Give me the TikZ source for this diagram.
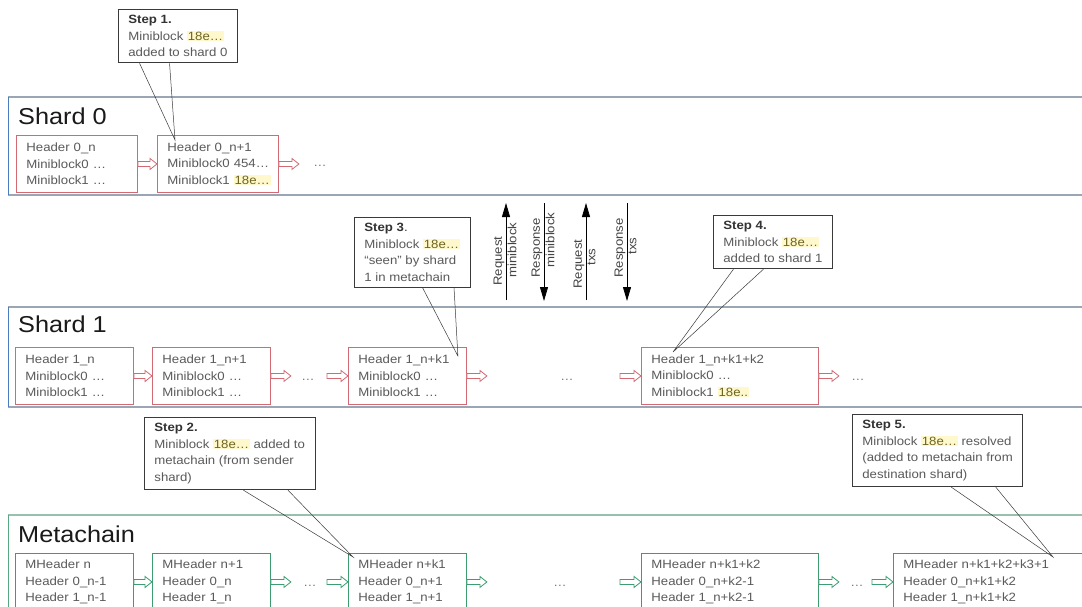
\documentclass[tikz,border=0pt]{standalone}
\usepackage{fontspec}
\setmainfont{Liberation Sans}[FakeStretch=1.1]
\usepackage{xcolor}
\usetikzlibrary{positioning, arrows.meta, calc}
\definecolor{shardred}{HTML}{D26A74}
\definecolor{metagreen}{HTML}{3D9C70}
\definecolor{bandline}{HTML}{9AA6B3}
\definecolor{bandblue}{HTML}{4A7DBF}
\definecolor{metaline}{HTML}{9BBFAE}
\definecolor{metaside}{HTML}{55A882}
\definecolor{txtgray}{HTML}{5A5A5A}
\definecolor{stepdark}{HTML}{333333}
\definecolor{callgray}{HTML}{3A3A3A}
\definecolor{dotgray}{HTML}{777777}
\definecolor{lblgray}{HTML}{444444}
\definecolor{titleblack}{HTML}{1A1A1A}
\definecolor{hlbg}{HTML}{FFF8CC}
\definecolor{hltext}{HTML}{6E6420}
\newcommand\blkfont{\fontsize{12}{16.5}\selectfont}
\newcommand\ttlfont{\fontsize{23}{27}\selectfont}
\newcommand\hlt[1]{{\setlength{\fboxsep}{0.8pt}\colorbox{hlbg}{\color{hltext}#1}}}
\tikzset{
  shardblk/.style={draw=shardred, line width=0.9pt, fill=white, anchor=north west,
    align=left, text width=#1, inner xsep=10pt, inner ysep=0pt,
    minimum height=57pt, text=txtgray, font=\blkfont},
  metablk/.style={shardblk=#1, draw=metagreen},
  callout/.style={draw=callgray, line width=0.8pt, fill=white, anchor=north west,
    align=left, inner xsep=10pt, inner ysep=6pt, text=txtgray, font=\blkfont},
  pointer/.style={draw=callgray, line width=0.5pt},
  chainarr/.style={draw=#1, line width=0.8pt, fill=white, line join=miter},
  dotsnode/.style={text=dotgray, font=\blkfont, inner sep=0pt},
  bandtitle/.style={anchor=west, text=titleblack, font=\ttlfont, inner sep=0pt},
  vlabel/.style={rotate=90, text=lblgray, font=\blkfont, inner sep=1.5pt},
  vline/.style={draw=black, line width=0.8pt, -{Triangle[length=14pt, width=8pt]}},
}
\begin{document}
\begin{tikzpicture}[x=1pt, y=-1pt]
  \useasboundingbox (0,0) rectangle (1082,607);
  \fill[white] (0,0) rectangle (1082,607);
  % bands
  \foreach \yt/\yb/\topc/\sidec in {97/195/bandline/bandblue, 307/407/bandline/bandblue, 515/640/metaline/metaside} {
    \draw[\topc, line width=1.2pt] (8,\yt) -- (1100,\yt);
    \draw[\topc, line width=1.2pt] (8,\yb) -- (1100,\yb);
    \draw[\sidec, line width=1pt] (8,\yt) -- (8,\yb);
  }
  \node[bandtitle] (ttl-s0) at (18,116) {Shard 0};
  \node[bandtitle] (ttl-s1) at (18,324) {Shard 1};
  \node[bandtitle] (ttl-m) at (18,534) {Metachain};
  % shard 0
  \node[shardblk=101pt] (s0a) at (16,135) {Header 0\_n\\ Miniblock0 \dots\\ Miniblock1 \dots};
  \node[shardblk=101pt] (s0b) at (157,135) {Header~0\_n+1\\ Miniblock0~454\dots\\ Miniblock1~\hlt{18e\dots}};
  % shard 1
  \node[shardblk=98pt] (s1a) at (15,347) {Header 1\_n\\ Miniblock0 \dots\\ Miniblock1 \dots};
  \node[shardblk=98pt] (s1b) at (152,347) {Header 1\_n+1\\ Miniblock0 \dots\\ Miniblock1 \dots};
  \node[shardblk=98pt] (s1c) at (348,347) {Header 1\_n+k1\\ Miniblock0 \dots\\ Miniblock1 \dots};
  \node[shardblk=157pt] (s1d) at (641,347) {Header 1\_n+k1+k2\\ Miniblock0 \dots\\ Miniblock1 \hlt{18e..}};
  % metachain
  \node[metablk=98pt] (m1) at (15,553) {MHeader n\\ Header 0\_n-1\\ Header 1\_n-1};
  \node[metablk=98pt] (m2) at (152,553) {MHeader n+1\\ Header 0\_n\\ Header 1\_n};
  \node[metablk=98pt] (m3) at (348,553) {MHeader n+k1\\ Header 0\_n+1\\ Header 1\_n+1};
  \node[metablk=157pt] (m4) at (641,553) {MHeader n+k1+k2\\ Header 0\_n+k2-1\\ Header 1\_n+k2-1};
  \node[metablk=180pt] (m5) at (893,553) {MHeader n+k1+k2+k3+1\\ Header 0\_n+k1+k2\\ Header 1\_n+k1+k2};
  % free ends of the chain arrows
  \foreach \n in {s0b,s1b,s1c,s1d,m2,m3,m4}
    \coordinate (\n-out) at ($(\n.east)+(20,0)$);
  \foreach \n in {s1c,s1d,m3,m4,m5}
    \coordinate (\n-in) at ($(\n.west)-(21,0)$);
  \foreach \sa/\sb/\cc in {s0a.east/s0b.west/shardred, s0b.east/s0b-out/shardred,
      s1a.east/s1b.west/shardred, s1b.east/s1b-out/shardred, s1c-in/s1c.west/shardred,
      s1c.east/s1c-out/shardred, s1d-in/s1d.west/shardred, s1d.east/s1d-out/shardred,
      m1.east/m2.west/metagreen, m2.east/m2-out/metagreen, m3-in/m3.west/metagreen,
      m3.east/m3-out/metagreen, m4-in/m4.west/metagreen, m4.east/m4-out/metagreen,
      m5-in/m5.west/metagreen}
    \filldraw[chainarr=\cc] let \p1=(\sa), \p2=(\sb) in
      (\x1,\y1+2.5pt) -- (\x2-7pt,\y1+2.5pt) -- (\x2-7pt,\y1+5.5pt) -- (\x2,\y1)
      -- (\x2-7pt,\y1-5.5pt) -- (\x2-7pt,\y1-2.5pt) -- (\x1,\y1-2.5pt) -- cycle;
  \node[dotsnode] (d0) at (320,166) {\dots};
  \node[dotsnode] (d1a) at (308,380) {\dots};
  \node[dotsnode] (d1b) at (567,380) {\dots};
  \node[dotsnode] (d1c) at (858,380) {\dots};
  \node[dotsnode] (dma) at (310,586) {\dots};
  \node[dotsnode] (dmb) at (560,586) {\dots};
  \node[dotsnode] (dmc) at (857,586) {\dots};
  % requests and responses
  \foreach \xx/\ya/\yb/\la/\lb/\pa/\pb [count=\i] in {506/300/203/Request/miniblock/261/250,
      544/203/301/Response/miniblock/248/240, 586/300/203/Request/txs/264/257,
      627/203/301/Response/txs/248/246} {
    \coordinate (v\i-a) at (\xx,\ya);
    \coordinate (v\i-b) at (\xx,\yb);
    \draw[vline] (v\i-a) -- (v\i-b);
    \node[vlabel, anchor=south] (v\i-la) at (\xx,\pa) {\la};
    \node[vlabel, anchor=north] (v\i-lb) at (\xx,\pb) {\lb};
  }
  % steps
  \node[callout] (c1) at (118,9) {{\bfseries\color{stepdark}Step 1.}\\ Miniblock \hlt{18e\dots}\\ added to shard 0};
  \node[callout] (c3) at (354,217) {{\bfseries\color{stepdark}Step 3}{\color{stepdark}.}\\ Miniblock \hlt{18e\dots}\\ “seen” by shard\\ 1 in metachain};
  \node[callout] (c4) at (713,215) {{\bfseries\color{stepdark}Step 4.}\\ Miniblock \hlt{18e\dots}\\ added to shard 1};
  \node[callout] (c2) at (144,417) {{\bfseries\color{stepdark}Step 2.}\\ Miniblock \hlt{18e\dots} added to\\ metachain (from sender\\ shard)};
  \node[callout] (c5) at (852,414) {{\bfseries\color{stepdark}Step 5.}\\ Miniblock \hlt{18e\dots} resolved\\ (added to metachain from\\ destination shard)};
  \coordinate (tip1) at ($(s0b.north west)+(18,5)$);
  \coordinate (tip3) at ($(s1c.north east)+(-9,9)$);
  \coordinate (tip4) at ($(s1d.north west)+(32,5)$);
  \coordinate (tip2) at ($(m3.north west)+(5,4)$);
  \coordinate (tip5) at ($(m5.north west)+(160,4)$);
  \foreach \c/\t/\fa/\fb in {c1/tip1/0.18/0.43, c3/tip3/0.59/0.86, c4/tip4/0.17/0.42,
      c2/tip2/0.58/0.84, c5/tip5/0.58/0.84}
    \draw[pointer] ($(\c.south west)!\fa!(\c.south east)$) -- (\t)
      -- ($(\c.south west)!\fb!(\c.south east)$);
\end{tikzpicture}
\end{document}
